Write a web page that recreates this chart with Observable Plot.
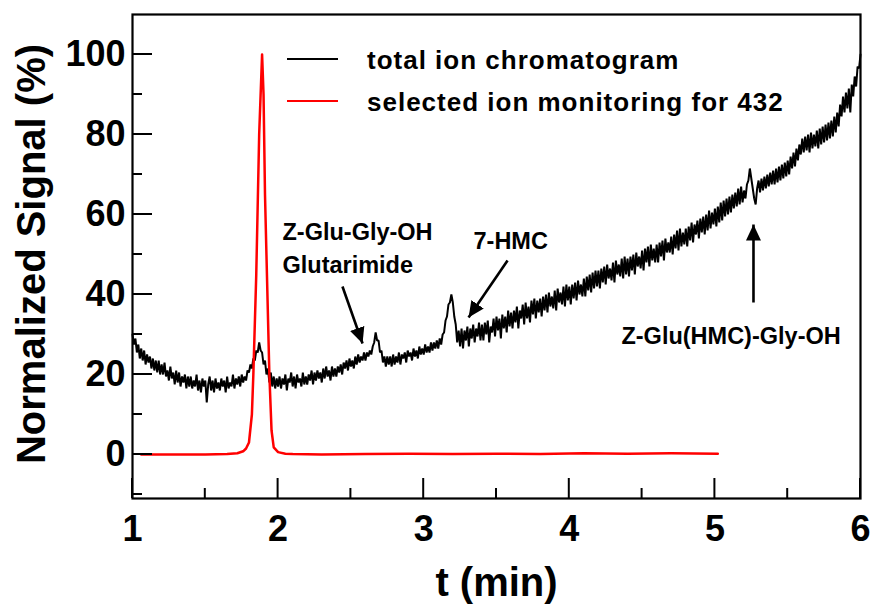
<!DOCTYPE html>
<html>
<head>
<meta charset="utf-8">
<script src="https://cdn.jsdelivr.net/npm/d3@7"></script>
<script src="https://cdn.jsdelivr.net/npm/@observablehq/plot@0.6"></script>
<style>
  body { margin: 0; background: #fff; }
  #chart svg { display: block; }
</style>
</head>
<body>
<div id="chart"></div>
<script>
// ---- Data ----
const ticStart = 1.0;
const ticStep = 0.01;
const ticSignal = [
  30, 27.5, 29, 25.5, 27.5, 24, 26.5, 23.5, 26, 22.5, 25, 23, 24.5, 21.5, 24, 21, 23.5, 20.5, 23.5, 20,
  22.5, 20, 23, 19.5, 21, 18.5, 22, 19, 20.5, 17.5, 21, 18, 20.5, 17, 19.5, 18, 20, 16.5, 19.5, 17,
  19.5, 16.5, 18.5, 17, 20, 16, 18.5, 15.5, 19, 17, 18.5, 13, 17.5, 19.5, 16, 18.5, 15.5, 19, 16.5, 18,
  16, 19, 17, 18.5, 15.5, 19.5, 16.5, 18, 17, 20, 16.5, 19, 17.5, 19.5, 17, 20, 18, 19.5, 18.5, 21,
  20.5, 22.5, 21.5, 24, 23.5, 26, 25.5, 28, 26, 25.5, 22.5, 23.5, 20, 21.5, 18, 20.5, 17, 19.5, 16.5, 19,
  17, 19.5, 16.5, 19, 17.5, 20, 16, 19, 18, 20.5, 17, 19.5, 16.5, 20, 18, 19, 17, 20.5, 17.5, 19.5,
  17.5, 20, 18.5, 21, 17.5, 20.5, 18.5, 21, 19, 20.5, 18, 21.5, 19, 22, 19.5, 21, 18.5, 22, 19.5, 21.5,
  19.5, 22, 20.5, 22.5, 20, 23, 21.5, 23.5, 21, 24, 22, 23.5, 21.5, 24.5, 22.5, 25, 23, 24.5, 23.5, 25.5,
  23.5, 25.5, 24.5, 26, 25, 27, 28, 30.5, 28.5, 28.5, 25.5, 26, 23, 24.5, 22, 24.5, 22.5, 24.5, 22, 25,
  22.5, 24.5, 23, 25.5, 22.5, 25, 24, 25.5, 23, 26, 24.5, 25.5, 23.5, 26.5, 24.5, 26, 24, 27, 25, 26.5,
  25, 27.5, 25.5, 27, 25.5, 28, 26, 28, 26.5, 28.5, 26.5, 29, 27.5, 30, 30.5, 33.5, 34.5, 37.5, 38, 40,
  38, 34.5, 32.5, 28, 31, 27, 31.5, 26.5, 31, 28.5, 32, 27, 31.5, 29, 32.5, 28, 31.5, 29.5, 33, 28.5,
  32.5, 28.5, 33, 30, 33.5, 28, 32, 30.5, 34, 29.5, 34.5, 31, 34, 29, 35, 31.5, 34.5, 30.5, 36, 32,
  35.5, 31.5, 36, 33, 37, 31.5, 36, 34, 37.5, 32.5, 38, 34, 37, 33, 38.5, 35, 39, 34, 38.5, 35.5,
  39, 34.5, 39.5, 36, 40, 35.5, 40.5, 37, 39.5, 36.5, 41, 36, 41.5, 38, 40.5, 37.5, 42, 37, 42.5, 38.5,
  42, 37.5, 42.5, 39, 43, 38.5, 43.5, 40, 42.5, 39.5, 44, 39.5, 44.5, 41, 45, 40.5, 45.5, 41.5, 46, 42,
  46, 41.5, 46.5, 43, 47, 42.5, 47.5, 44, 46.5, 43.5, 48, 43, 48.5, 45, 47.5, 44.5, 49, 44, 49.5, 45,
  49, 44.5, 49.5, 46, 50, 45, 50.5, 47, 49.5, 46.5, 51, 46, 51.5, 48, 52, 47, 52.5, 48.5, 51.5, 48,
  52.5, 48, 53, 49.5, 53.5, 48.5, 54, 50.5, 53, 50.5, 54.5, 50, 55, 51.5, 56, 51, 56.5, 52, 55.5, 52.5,
  56.5, 52, 57, 53.5, 58, 53, 57.5, 55, 58.5, 54, 59, 55.5, 59.5, 55, 60, 56, 61, 56.5, 60.5, 57.5,
  61.5, 57, 62, 58, 63, 58.5, 63.5, 59.5, 64, 60, 64.5, 60.5, 65, 61.5, 65.5, 62, 66.5, 62.5, 67, 63,
  66, 64, 67.5, 68.5, 71.5, 69, 66.5, 64, 62.5, 66.5, 68.5, 65.5, 69, 66, 69.5, 66.5, 70, 67, 70.5, 67.5,
  71, 67.5, 71.5, 68, 72, 68.5, 72.5, 69, 73, 69.5, 73.5, 70, 74.5, 71.5, 75.5, 72, 76.5, 73.5, 77.5, 75,
  79, 75.5, 79.5, 76, 80, 75.5, 80.5, 76.5, 80, 77, 81, 76.5, 81.5, 77.5, 82, 78, 82.5, 78.5, 83, 79,
  83.5, 79.5, 84.5, 80.5, 85.5, 82, 87.5, 84.5, 89.5, 85.5, 90.5, 86.5, 91.5, 85.5, 92.5, 89.5, 94.5, 92, 97, 96.5,
  100
];

// Selected ion monitoring for 432
const simTimes  = [1.06, 1.3, 1.5, 1.65, 1.72, 1.76, 1.78, 1.80, 1.82, 1.83, 1.85, 1.87, 1.89, 1.90, 1.91, 1.93, 1.94, 1.955, 1.97, 2.0, 2.05, 2.1, 2.3, 2.6, 2.9, 3.2, 3.5, 3.8, 4.1, 4.4, 4.7, 5.02];
const simSignal = [0, 0, 0, 0.1, 0.3, 0.8, 1.5, 3, 10, 20, 45, 80, 100, 90, 65, 35, 20, 6, 1.8, 0.6, 0.2, 0.1, 0, 0.1, 0.2, 0.1, 0.2, 0.1, 0.3, 0.2, 0.3, 0.2];

// Axis ticks
const xMajor = [1, 2, 3, 4, 5, 6];
const xMinor = [1.5, 2.5, 3.5, 4.5, 5.5];
const yMajor = [0, 20, 40, 60, 80, 100];
const yMinor = [-10, 10, 30, 50, 70, 90];
const xDomain = [1, 6];
const yDomain = [-11, 110];
const xTitle = "t (min)";
const yTitle = "Normalized Signal (%)";

// Legend
const legendLabels = ["total ion chromatogram", "selected ion monitoring for 432"];
const legendColors = ["black", "red"];

// Annotations (text anchor = left / middle of line)
const noteLabels = ["Z-Glu-Gly-OH", "Glutarimide", "7-HMC", "Z-Glu(HMC)-Gly-OH"];
const noteX = [2.03, 2.03, 3.342, 4.358];
const noteY = [55.6, 47.35, 53.35, 29.6];

// Arrows (tail -> head)
const arrowX1 = [2.442, 3.576, 5.265];
const arrowY1 = [42, 48.5, 38];
const arrowX2 = [2.580, 3.308, 5.265];
const arrowY2 = [27.75, 34.25, 57.5];

// ---- Build tables ----
const tic = ticSignal.map((v, i) => ({t: ticStart + i * ticStep, v}));
const sim = simTimes.map((t, i) => ({t, v: simSignal[i]}));
const notes = noteLabels.map((label, i) => ({label, x: noteX[i], y: noteY[i]}));
const arrows = arrowX1.map((x1, i) => ({x1, y1: arrowY1[i], x2: arrowX2[i], y2: arrowY2[i]}));

const FONT = "'Liberation Sans', Arial, Helvetica, sans-serif";
const W = 871, H = 604, ML = 132, MR = 11, MT = 14, MB = 106;
const majorLen = 20, minorLen = 10;

function filledArrow(color, context) {
  const m = d3.create("svg:marker")
    .attr("viewBox", "-16 -8 16 16")
    .attr("markerWidth", 16)
    .attr("markerHeight", 16)
    .attr("markerUnits", "userSpaceOnUse")
    .attr("refX", 0)
    .attr("refY", 0)
    .attr("orient", "auto");
  m.append("path").attr("d", "M-16,-7.5L0,0L-16,7.5Z").attr("fill", color).attr("stroke", "none");
  return m.node();
}

const chart = Plot.plot({
  width: W,
  height: H,
  marginLeft: ML,
  marginRight: MR,
  marginTop: MT,
  marginBottom: MB,
  style: {fontFamily: FONT, background: "white", overflow: "visible"},
  x: {domain: xDomain},
  y: {domain: yDomain},
  marks: [
    Plot.line(tic, {x: "t", y: "v", stroke: "black", strokeWidth: 2, strokeLinejoin: "miter"}),
    Plot.line(sim, {x: "t", y: "v", stroke: "red", strokeWidth: 2.5}),
    Plot.link(arrows, {x1: "x1", y1: "y1", x2: "x2", y2: "y2", stroke: "black", strokeWidth: 2.6, markerEnd: filledArrow}),
    Plot.text(notes, {x: "x", y: "y", text: "label", textAnchor: "start", fontSize: 23.5, fontWeight: "bold", fill: "black"}),
    // tick labels
    Plot.axisX(xMajor, {tickSize: 0, tickPadding: 17, tickFormat: d => String(d), fontSize: 36, fontWeight: "bold", label: null}),
    Plot.axisY(yMajor, {tickSize: 0, tickPadding: 7, tickFormat: d => String(d), fontSize: 36, fontWeight: "bold", label: null}),
    Plot.frame({stroke: "black", strokeWidth: 2.2}),
    Plot.text([xTitle], {frameAnchor: "bottom", dy: 97, fontSize: 40, fontWeight: "bold", fill: "black"})
  ]
});

document.getElementById("chart").appendChild(chart);

const svg = d3.select(chart);
const sx = chart.scale("x"), sy = chart.scale("y");

// Inward tick marks, positioned through the plot's own scales
const tg = svg.append("g").attr("stroke", "black").attr("stroke-width", 2);
const bottom = H - MB, left = ML;
[[xMajor, majorLen], [xMinor, minorLen]].forEach(([vals, len]) => {
  vals.forEach(v => {
    const px = sx.apply(v);
    tg.append("line").attr("x1", px).attr("x2", px).attr("y1", bottom).attr("y2", bottom - len);
  });
});
[[yMajor, majorLen], [yMinor, minorLen]].forEach(([vals, len]) => {
  vals.forEach(v => {
    const py = sy.apply(v);
    tg.append("line").attr("x1", left).attr("x2", left + len).attr("y1", py).attr("y2", py);
  });
});

// Y-axis title (rotated)
svg.append("text")
  .attr("transform", "translate(45,254) rotate(-90)")
  .attr("text-anchor", "middle")
  .attr("font-family", FONT)
  .attr("font-weight", "bold")
  .attr("font-size", 40)
  .attr("fill", "black")
  .text(yTitle);

// Legend drawn inside the plot area (top-left)
const lg = svg.append("g")
  .attr("font-family", FONT)
  .attr("font-weight", "bold")
  .attr("font-size", 26)
  .attr("letter-spacing", 1)
  .attr("text-anchor", "start");
legendLabels.forEach((label, i) => {
  const yy = 59 + 42 * i;
  lg.append("line")
    .attr("x1", 287).attr("x2", 338)
    .attr("y1", yy).attr("y2", yy)
    .attr("stroke", legendColors[i]).attr("stroke-width", 2.2);
  lg.append("text")
    .attr("x", 367).attr("y", yy + 10)
    .attr("fill", "black")
    .text(label);
});
</script>
</body>
</html>
